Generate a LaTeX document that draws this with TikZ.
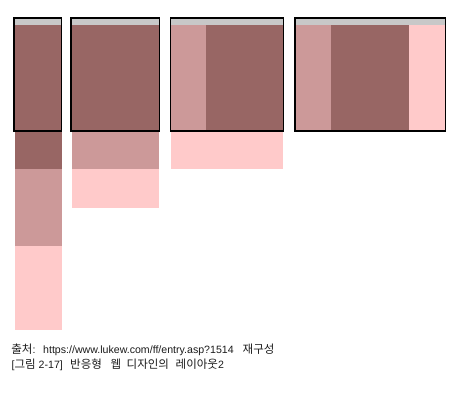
\documentclass[tikz,border=0pt]{standalone}
\usepackage{fontspec}
\setmainfont{Liberation Sans}
\newfontfamily\kr{Noto Sans CJK KR}
\definecolor{darkc}{HTML}{986664}
\definecolor{medc}{HTML}{CC9999}
\definecolor{lightc}{HTML}{FFCACA}
\definecolor{barc}{HTML}{C8C8C8}
\definecolor{txtc}{HTML}{1A1A1A}
\newcommand{\ko}[1]{{\kr\fontsize{11.5}{13}\selectfont #1}}
\begin{document}
\begin{tikzpicture}[x=1pt,y=-1pt,
  frame/.style={draw=black,line width=1.2pt},
  captext/.style={anchor=base west,inner sep=0pt,text=txtc,font=\fontsize{10.6}{13}\selectfont}]
\useasboundingbox (0,0) rectangle (460,393);
% box 1
\fill[barc] (14,18) rectangle (61.7,25.3);
\fill[darkc] (14,25.3) rectangle (61.7,131);
\fill[darkc] (14.7,131) rectangle (62,169);
\fill[medc] (14.7,169) rectangle (62,246.3);
\fill[lightc] (14.7,246.3) rectangle (62,330);
\draw[frame] (14,18) rectangle (61.7,131);
% box 2
\fill[barc] (71,18) rectangle (159.3,25.3);
\fill[darkc] (71,25.3) rectangle (159.3,131);
\fill[medc] (72,131) rectangle (159.3,169.3);
\fill[lightc] (72,169.3) rectangle (159.3,207.7);
\draw[frame] (71,18) rectangle (159.3,131);
% box 3
\fill[barc] (170.3,18) rectangle (283.3,25.3);
\fill[medc] (170.3,25.3) rectangle (205.7,131);
\fill[darkc] (205.7,25.3) rectangle (283.3,131);
\fill[lightc] (170.8,131) rectangle (283.3,169.3);
\draw[frame] (170.3,18) rectangle (283.3,131);
% box 4
\fill[barc] (295,18) rectangle (445.3,25.3);
\fill[medc] (295,25.3) rectangle (330.7,131);
\fill[darkc] (330.7,25.3) rectangle (409.3,131);
\fill[lightc] (409.3,25.3) rectangle (445.3,131);
\draw[frame] (295,18) rectangle (445.3,131);
% captions, line 1
\node[captext] (src1) at (11.2,353) {\ko{출처}:};
\node[captext] (src2) at (43,353) {https://www.lukew.com/ff/entry.asp?1514};
\node[captext] (src3) at (242.5,353) {\ko{재구성}};
% captions, line 2
\node[captext] (fig1) at (11.5,368) {[\ko{그림} 2-17]};
\node[captext] (fig2) at (70,368) {\ko{반응형}};
\node[captext] (fig3) at (110.5,368) {\ko{웹}};
\node[captext] (fig4) at (126.5,368) {\ko{디자인의}};
\node[captext] (fig5) at (175.5,368) {\ko{레이아웃}2};
\end{tikzpicture}
\end{document}
